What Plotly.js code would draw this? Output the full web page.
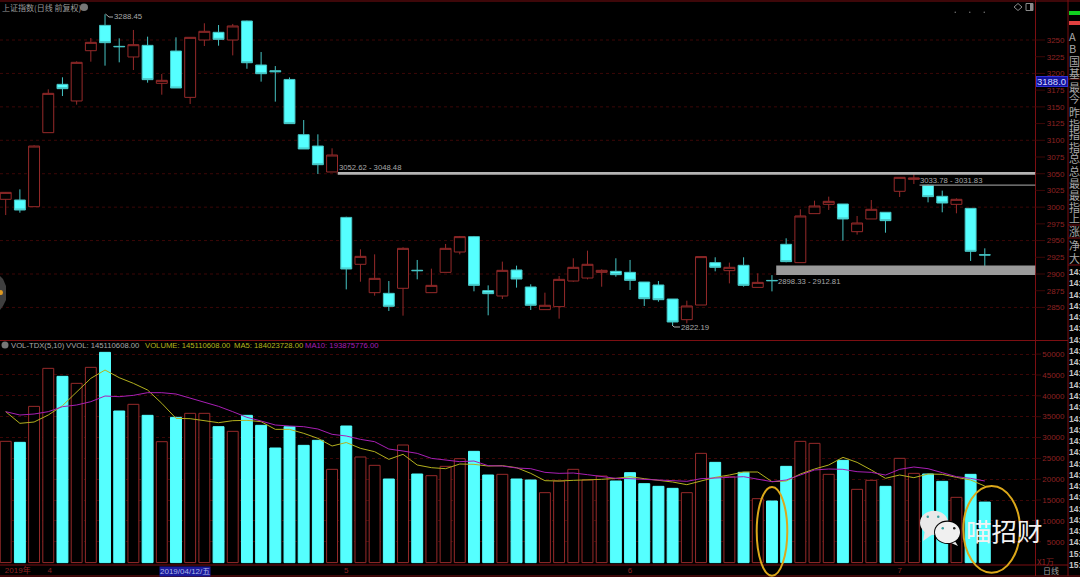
<!DOCTYPE html>
<html>
<head>
<meta charset="utf-8">
<script src="https://cdn.plot.ly/plotly-3.0.1.min.js"></script>
<style>html,body{margin:0;padding:0;background:#000;overflow:hidden}#c{width:1080px;height:577px}</style>
</head>
<body>
<div id="c"></div>
<script>
var openPx=[3011.7,3010.7,3000.7,3111.4,3183.7,3158.8,3234,3271.9,3240.5,3224.6,3242,3185.2,3233.5,3164.2,3250,3261.5,3250,3278.4,3212.6,3204,3191,3108.4,3091.4,3052.6,2984.7,2914.5,2872.1,2871.1,2878.6,2905.6,2872.1,2902.5,2932.9,2955.9,2875.1,2867.1,2906,2880.6,2846.7,2851.2,2889.5,2894,2902.5,2904,2902.5,2888,2883.6,2862.6,2831.7,2853.6,2917,2905,2913,2880,2890.4,2944.4,2917,2990.3,3004.2,3004.7,2963.3,2982.3,2992.3,3023.7,3041.6,3032.6,3016.2,3004.2,2998.2,2928.8];
var highPx=[3022.5,3026.6,3092.4,3176.2,3194.2,3218.1,3253,3288.45,3252.5,3265,3255,3199.1,3254,3254,3275,3272.4,3274,3279,3232,3211,3194,3130.3,3108.9,3088,2985.7,2936.9,2929.4,2889.5,2939.9,2921,2908,2944.9,2956.9,2956.9,2883,2918.5,2912.5,2884.6,2872.1,2897,2923.5,2934.9,2907,2923.5,2921,2888,2889.5,2862.6,2860.1,2926,2925,2917,2925,2901,2898.3,2953.4,2996.8,3009.7,3015.7,3004.7,2986.8,3010.7,2992.3,3044.6,3049.6,3033.8,3024.7,3013.2,2998.2,2938.4];
var lowPx=[2988.2,2991.7,3000.7,3111.4,3166.2,3153.3,3217.6,3211.6,3216.6,3205.1,3186.2,3168.2,3178.2,3154.3,3241,3241.5,3227,3207,3187.7,3157.8,3124.9,3087,3049.6,3052.6,2877,2888.5,2867.6,2844.7,2837.7,2892,2872.1,2902.5,2929.4,2874.1,2838.2,2862.6,2879.6,2846.2,2846.7,2833.2,2888.5,2892,2881,2896,2876.1,2852.2,2858.6,2822.19,2826.2,2853.6,2904,2886,2881,2880,2874,2917.5,2917,2990.3,2995.8,2949.9,2958.9,2982.3,2961.8,3015.2,3034.6,3007.2,2992.3,2990.8,2919.5,2912];
var closePx=[3022.1,2995.7,3091.4,3170.2,3177.2,3216.6,3246.5,3246,3240,3243,3190.7,3189.7,3178.2,3254,3263,3251,3271,3216,3199.6,3202.6,3124.9,3087,3063.5,3078,2907.5,2926.4,2893.5,2851.7,2938.4,2905,2883,2938.4,2955.9,2883,2870.6,2905.5,2892.5,2853.2,2853.2,2892,2910,2914.5,2905.5,2899,2890.5,2863.1,2861.6,2828.2,2852.2,2926,2910,2910,2883,2887.5,2890,2918.5,2986.8,3001.7,3008.7,2982.3,2976.3,2996.8,2979.8,3044.6,3043.6,3015.7,3006.2,3011.7,2933.9,2928.4];
var volumes=[29080,28840,37470,46585,44666,42988,46825,50422,36354,37953,35315,29000,34835,35795,35795,32597,31478,35315,32917,27482,32597,28120,29320,22366,32757,25323,23324,20047,28200,21246,20846,23084,24922,26681,21006,21166,20047,19807,16770,19567,22365,19807,20766,19567,21565,18927,18288,17809,16770,26201,24043,20606,21645,15331,14771,23084,29079,28599,21166,24523,17569,19727,18288,25002,21405,21245,19487,15650,21166,14511];
var ma5=[36194,33397,33716,35395,37633,40830,44187,46185,44347,42988,41389,38192,34596,34516,34036,33556,34036,34116,33796,31957,31957,30999,29800,27961,28800,27400,26600,24763,25962,23404,22764,22525,23643,23563,23164,23243,22764,21405,19647,19567,19727,19807,19967,20207,20606,20127,19727,19328,18688,19647,20446,21006,21725,21725,19407,19567,21245,22445,23404,25243,24043,22205,20207,21006,20367,21245,21166,20446,19807,18368];
var ma10=[36194,35395,35635,36194,37393,37793,38592,39951,39791,40110,40750,40750,40431,39391,38432,37473,36194,34836,33956,32997,32757,32597,32038,30759,30358,29558,28999,27240,26761,26201,25002,24523,24203,24363,23244,23164,22684,22525,21645,21405,21485,21086,20606,20207,20127,19967,19647,19487,19487,20127,20207,20446,20606,20047,19407,19807,21006,22205,22445,22365,21805,21645,20996,22365,22924,22525,21565,20606,20207,19567];
var priceTicks=[2850,2875,2900,2925,2950,2975,3000,3025,3050,3075,3100,3125,3150,3175,3200,3225,3250];
var priceGrid=[2850,2900,2950,3000,3050,3100,3150,3200,3250];
var volTicks=[5000,10000,15000,20000,25000,30000,35000,40000,45000,50000];
var dateTickVals=[0.85,3.1,24,44,63];
var dateTickText=['2019年','4','5','6','7'];
var sideLabels=['A','B','国','基','最','今','昨','指','指','指','总','总','最','最','指','上','涨','净','大'];
var sideRowsY=[36,48,61,73,87,98,112,124,134,147,158,171,183,195,207,218,231,245,258];
var timeLabels=['14:','14:','14:','14:','14:','14:','14:','14:','14:','14:','14:','14:','14:','14:','14:','14:','14:','14:','14:','14:','14:','14:','14:','14:','14:','15:','15:'];

var idx=volumes.map(function(_,i){return i;});
var RED='#962a2a', CYAN='#55ffff', WICK='#46c4c4', GRID='#3c0707', FRAME='#7c0f12', AXT='#8e2222', GREY='#a8a8a8';
var F='"Liberation Sans",sans-serif', CJK='"Noto Sans CJK SC",sans-serif';
var W=1080,H=577,PW=1035.5;
function px(x){return x/W;} function py(y){return 1-y/H;}
var XR=[-5.7/14.19,(PW-5.7)/14.19];

var traces=[
 {type:'candlestick',x:idx,open:openPx,high:highPx,low:lowPx,close:closePx,xaxis:'x',yaxis:'y',whiskerwidth:0,
  increasing:{line:{color:RED,width:1},fillcolor:'#000'},decreasing:{line:{color:WICK,width:1},fillcolor:CYAN},hoverinfo:'skip'},
 {type:'bar',x:idx,y:volumes,xaxis:'x2',yaxis:'y2',width:0.77,hoverinfo:'skip',
  marker:{color:idx.map(function(i){return closePx[i]>=openPx[i]?'#000':CYAN;}),
          line:{width:1,color:idx.map(function(i){return closePx[i]>=openPx[i]?RED:CYAN;})}}},
 {type:'scatter',mode:'lines',x:idx,y:ma5,xaxis:'x2',yaxis:'y2',line:{color:'#b3b01e',width:1},hoverinfo:'skip'},
 {type:'scatter',mode:'lines',x:idx,y:ma10,xaxis:'x2',yaxis:'y2',line:{color:'#a81fb4',width:1},hoverinfo:'skip'}
];

function pline(x0,y0,x1,y1,c,w){return {type:'line',xref:'paper',yref:'paper',x0:px(x0),x1:px(x1),y0:py(y0),y1:py(y1),line:{color:c,width:w||1},layer:'above'};}
function prect(x0,y0,x1,y1,f,lc){return {type:'rect',xref:'paper',yref:'paper',x0:px(x0),x1:px(x1),y0:py(y0),y1:py(y1),fillcolor:f,line:{color:lc||f,width:lc?1:0},layer:'above'};}
function pell(x0,y0,x1,y1,f,lc,w){return {type:'circle',xref:'paper',yref:'paper',x0:px(x0),x1:px(x1),y0:py(y0),y1:py(y1),fillcolor:f||'rgba(0,0,0,0)',line:{color:lc||'rgba(0,0,0,0)',width:w||0},layer:'above'};}
function ppath(pts,f){return {type:'path',xref:'paper',yref:'paper',path:pts.map(function(p,i){return (i?'L':'M')+px(p[0])+','+py(p[1]);}).join(' ')+' Z',fillcolor:f,line:{width:0},layer:'above'};}
function band(i0,top,bot,c){return {type:'rect',xref:'x',yref:'y',x0:i0,x1:XR[1],y0:bot,y1:top,fillcolor:c,line:{width:0},layer:'above'};}

var shapes=[
 pline(0,1,1080,1,FRAME),pline(0,340.5,1068,340.5,FRAME),pline(0,565,1068,565,FRAME),pline(0,576,1080,576,FRAME),
 pline(PW,0,PW,576,FRAME),pline(1068,0,1068,576,FRAME),
 pline(1068,79,1080,79,FRAME),pline(1068,225,1080,225,FRAME),pline(1068,238,1080,238,FRAME),pline(1068,265,1080,265,FRAME),
 prect(1069,11,1080,15,'#10d020'),prect(1069,21,1080,25,'#e04040'),
 band(23.4,3052.62,3048.48,'#b4b4b4'),band(64.4,3033.78,3031.83,'#8c8c8c'),band(54.3,2912.81,2898.33,'#9a9a9a'),
 pline(105.5,14,109,17,GREY),pline(109,17,113,17,GREY),pline(672,325,674,327,GREY),pline(674,327,680,327,GREY),
 {type:'path',xref:'paper',yref:'paper',path:'M'+px(1014)+','+py(7)+' L'+px(1018)+','+py(3.5)+' L'+px(1022)+','+py(7)+' L'+px(1018)+','+py(10.5)+' Z',line:{color:'#8a8a8a',width:1},layer:'above'},
 prect(1026,3.5,1033,10.5,'rgba(0,0,0,0)','#8a8a8a'),prect(1030,4,1033,10,'#8a8a8a'),
 pell(954.5,11.5,956,13,'#777'),pell(969,11.5,970.5,13,'#777'),pell(983.5,11.5,985,13,'#777'),
 pell(80,3.5,88,11,'#777'),pell(1.5,341.5,8.5,348.5,'#777'),
 ppath([[0,276],[3,279],[6,286],[6,300],[3,306],[0,310]],'#3f3f3f'),pell(-1,290,3,295,'#e09a20'),
 pell(756.7,487,787.3,575.7,null,'#dca81a',2),pell(963.3,486,1020,572.7,null,'#dca81a',2),
 ppath([[925,530],[923,541],[933,534]],'#e8e8e8'),pell(920,510.7,948,535,'#e9e9e9'),
 ppath([[953,538],[958,546],[949,542]],'#e8e8e8'),pell(934,520.5,961,544,'#000'),pell(935,521.7,960,543,'#f0f0f0'),
 pell(926.5,515.5,929,518,'#3aa0a0'),pell(937,515.5,939.5,518,'#3aa0a0'),
 pell(941.5,527,944,529.5,'#3aa0a0'),pell(953,527,955.5,529.5,'#222')
];
priceTicks.forEach(function(t){shapes.push({type:'line',xref:'paper',yref:'y',x0:px(PW),x1:px(1045),y0:t,y1:t,line:{color:GRID,width:1},layer:'above'});});
volTicks.forEach(function(t){shapes.push({type:'line',xref:'paper',yref:'y2',x0:px(PW),x1:px(1041),y0:t,y1:t,line:{color:GRID,width:1},layer:'above'});});

function note(text,x,y,color,size,font,extra){
  var a={text:text,xref:'paper',yref:'paper',x:px(x),y:py(y),xanchor:'left',yanchor:'middle',showarrow:false,
         font:{color:color,size:size,family:font||F},borderpad:0,borderwidth:0,captureevents:false};
  for(var k in (extra||{}))a[k]=extra[k];
  return a;
}
var annotations=[
 note('上证指数(日线 前复权)',2,7.5,'#9c9c9c',8,CJK),
 note('VOL-TDX(5,10)',11,345,GREY,7.7),
 note('VVOL: 145110608.00',66,345,GREY,7.7),
 note('VOLUME: 145110608.00',145,345,'#b6b61c',7.7),
 note('MA5: 184023728.00',234,345,'#b6b61c',7.7),
 note('MA10: 193875776.00',305,345,'#a81fb4',7.7),
 note('3288.45',114,17,GREY,7.8),
 note('3052.62 - 3048.48',339,167,GREY,7.7),
 note('3033.78 - 3031.83',920,180,GREY,7.7),
 note('2898.33 - 2912.81',778,281,GREY,7.7),
 note('2822.19',681,327,GREY,7.8),
 note('X1万',1037,561,AXT,8,CJK),
 note('日线',1043,570.5,'#a0a0a0',8,CJK),
 note('喵招财',966,529,'#f2f2f2',25.5,CJK),
 {text:'2019/04/12/五',xref:'paper',yref:'paper',x:px(184.5),y:py(571),xanchor:'center',yanchor:'middle',showarrow:false,font:{color:'#b0b8e8',size:8,family:F+',"Noto Sans CJK SC"'},bgcolor:'#1a1a9c',borderpad:0},
 {text:'3188.0',xref:'paper',yref:'y',x:px(1036),y:3188,xanchor:'left',yanchor:'middle',showarrow:false,font:{color:'#d0d8ff',size:9.5,family:F},bgcolor:'#12129c',bordercolor:'#3232d8',borderwidth:1,borderpad:0,width:30,height:9,align:'left'}
];
sideLabels.forEach(function(s,i){annotations.push(note(s,1069,sideRowsY[i],'#a8a8a8',11,CJK));});
timeLabels.forEach(function(s,i){annotations.push(note('<b>'+s+'</b>',1068.8,272+11.27*i,'#c4c4c4',8.5,F));});

var layout={
 width:W,height:H,margin:{l:0,r:0,t:0,b:0,pad:0},paper_bgcolor:'#000',plot_bgcolor:'#000',showlegend:false,barmode:'overlay',boxgap:0.23,boxgroupgap:0,
 xaxis:{domain:[0,PW/W],range:XR,anchor:'y',showgrid:false,zeroline:false,showticklabels:false,ticks:'',rangeslider:{visible:false},showline:false},
 xaxis2:{domain:[0,PW/W],range:XR,anchor:'y2',showgrid:false,zeroline:false,ticks:'',showline:false,tickmode:'array',tickvals:dateTickVals,ticktext:dateTickText,tickfont:{color:AXT,size:8,family:F+',"Noto Sans CJK SC"'},tickangle:0,ticklabelstandoff:-1},
 yaxis:{domain:[py(340),py(2)],range:[3250-300*1.4957,3250+38*1.4957],anchor:'free',position:px(1064.5),side:'left',tickmode:'array',tickvals:priceTicks,tickformat:'d',
        tickfont:{color:AXT,size:8,family:F},ticks:'',showgrid:false,zeroline:false,showline:false},
 yaxis2:{domain:[py(565),py(341)],range:[-575,53144],anchor:'free',position:px(1064.5),side:'left',tickmode:'array',tickvals:volTicks,tickformat:'d',
        tickfont:{color:AXT,size:8,family:F},ticks:'',gridcolor:GRID,griddash:'dot',gridwidth:1,showgrid:true,zeroline:false,showline:false},
 shapes:shapes,annotations:annotations
};
priceGrid.forEach(function(t){layout.shapes.unshift({type:'line',xref:'paper',yref:'y',x0:0,x1:px(PW),y0:t,y1:t,line:{color:GRID,width:1,dash:'dot'},layer:'below'});});
Plotly.newPlot('c',traces,layout,{staticPlot:true,displayModeBar:false,responsive:false});
</script>
</body>
</html>
